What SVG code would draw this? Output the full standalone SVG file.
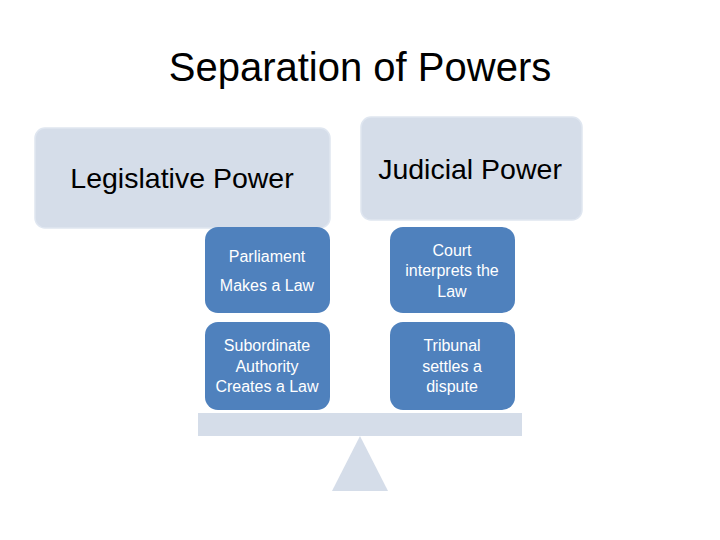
<svg xmlns="http://www.w3.org/2000/svg" width="720" height="540" viewBox="0 0 720 540">
<style>
.head{fill:#d5dde9;stroke:#dfe6f0;stroke-width:1.5}
.item{fill:#4f81bd}
.base{fill:#d5dde9}
.t{font-family:"Liberation Sans",Arial,sans-serif;text-anchor:middle}
.ht{font-size:28.5px;fill:#000}
.it{font-size:16px;fill:#fff}
</style>
<rect width="720" height="540" fill="#fff"/>
<text class="t" x="360" y="81" font-size="40" fill="#000">Separation of Powers</text>
<g id="legislative">
<rect class="head" x="35" y="128" width="295" height="100" rx="10"/>
<text class="t ht" x="182" y="188">Legislative Power</text>
</g>
<g id="judicial">
<rect class="head" x="361" y="117" width="221" height="103" rx="10"/>
<text class="t ht" x="470" y="179">Judicial Power</text>
</g>
<g id="parliament">
<rect class="item" x="205" y="227" width="125" height="86" rx="13"/>
<text class="t it" x="267" y="262">Parliament</text>
<text class="t it" x="267" y="291">Makes a Law</text>
</g>
<g id="court">
<rect class="item" x="390" y="227" width="125" height="86" rx="13"/>
<text class="t it" x="452" y="256">Court</text>
<text class="t it" x="452" y="276">interprets the</text>
<text class="t it" x="452" y="297">Law</text>
</g>
<g id="subordinate">
<rect class="item" x="205" y="322" width="125" height="88" rx="13"/>
<text class="t it" x="267" y="351">Subordinate</text>
<text class="t it" x="267" y="372">Authority</text>
<text class="t it" x="267" y="392">Creates a Law</text>
</g>
<g id="tribunal">
<rect class="item" x="390" y="322" width="125" height="88" rx="13"/>
<text class="t it" x="452" y="351">Tribunal</text>
<text class="t it" x="452" y="372">settles a</text>
<text class="t it" x="452" y="392">dispute</text>
</g>
<g id="balance">
<rect class="base" x="198" y="413" width="324" height="23"/>
<polygon class="base" points="360,436 388,491 332,491"/>
</g>
<g id="connectors"></g>
</svg>
